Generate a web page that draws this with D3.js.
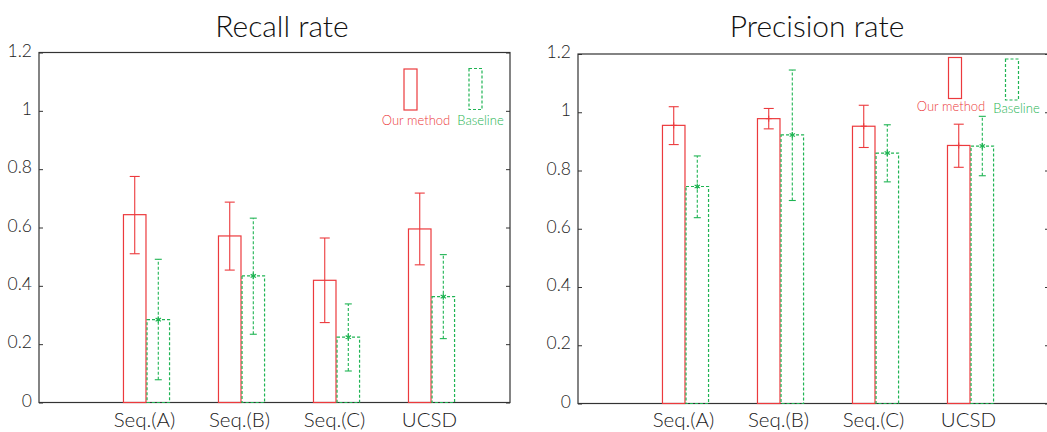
<!DOCTYPE html>
<html>
<head>
<meta charset="utf-8">
<script src="https://cdn.jsdelivr.net/npm/d3@7"></script>
<style>
  body { margin: 0; background: #fff; }
  text { font-family: Lato, "Open Sans", sans-serif; }
</style>
</head>
<body>
<div id="chart"></div>
<script>
const WIDTH = 1047;
const HEIGHT = 432;

const categories = ['Seq.(A)', 'Seq.(B)', 'Seq.(C)', 'UCSD'];
const yTicks = [0, 0.2, 0.4, 0.6, 0.8, 1, 1.2];
const seriesNames = ['Our method', 'Baseline'];

// recall rate
const recallOurs = [0.644, 0.571, 0.419, 0.595];
const recallOursLo = [0.51, 0.454, 0.274, 0.472];
const recallOursHi = [0.775, 0.687, 0.564, 0.718];
const recallBase = [0.284, 0.434, 0.224, 0.363];
const recallBaseLo = [0.078, 0.234, 0.108, 0.219];
const recallBaseHi = [0.491, 0.632, 0.338, 0.507];

// precision rate
const precOurs = [0.955, 0.978, 0.952, 0.886];
const precOursLo = [0.889, 0.943, 0.879, 0.811];
const precOursHi = [1.019, 1.013, 1.024, 0.959];
const precBase = [0.745, 0.922, 0.86, 0.884];
const precBaseLo = [0.638, 0.697, 0.761, 0.782];
const precBaseHi = [0.85, 1.145, 0.957, 0.986];

const RED = '#ec3a3d';
const GREEN = '#1fb453';
const AXIS = '#333';
const FONT = 'Lato, "Open Sans", sans-serif';

const svg = d3.select('#chart').append('svg')
  .attr('width', WIDTH)
  .attr('height', HEIGHT);

const panels = [
  {
    title: 'Recall rate', left: 39, top: 52.5, bottom: 402.5, titleX: 282,
    ours: recallOurs, oursLo: recallOursLo, oursHi: recallOursHi,
    base: recallBase, baseLo: recallBaseLo, baseHi: recallBaseHi,
    legX: [410.5, 475.5], legTop: [69, 68.5], legBot: [110, 109.5],
    legTextX: [416, 480.5], legTextY: [125, 125],
    redMarker: false
  },
  {
    title: 'Precision rate', left: 578, top: 54, bottom: 403.5, titleX: 817,
    ours: precOurs, oursLo: precOursLo, oursHi: precOursHi,
    base: precBase, baseLo: precBaseLo, baseHi: precBaseHi,
    legX: [955, 1012], legTop: [57.5, 59], legBot: [98.5, 100],
    legTextX: [951, 1016.5], legTextY: [110.5, 112.5],
    redMarker: true
  }
];

const fmt = d => (d === 0 || d === 1) ? String(d) : d3.format('.1f')(d);

panels.forEach(p => {
  const g = svg.append('g');
  const plotW = 471;
  const x = d3.scaleLinear()
    .domain([-0.1316, 4.826])
    .range([p.left, p.left + plotW]);
  const y = d3.scaleLinear()
    .domain([0, 1.2])
    .range([p.bottom, p.top]);
  const bw = x(0.237) - x(0);
  const off = 0.124;

  // title
  g.append('text')
    .attr('x', p.titleX)
    .attr('y', 37)
    .attr('text-anchor', 'middle')
    .attr('font-size', 30)
    .attr('font-weight', 300)
    .attr('fill', '#111')
    .text(p.title);

  // frame
  g.append('rect')
    .attr('x', p.left)
    .attr('y', p.top)
    .attr('width', plotW)
    .attr('height', p.bottom - p.top)
    .attr('fill', 'none')
    .attr('stroke', AXIS)
    .attr('stroke-width', 1.2);

  const yAxis = g.append('g')
    .attr('transform', `translate(${p.left},0)`)
    .call(d3.axisLeft(y).tickValues(yTicks).tickFormat(fmt).tickSize(-4).tickPadding(7));
  yAxis.select('.domain').remove();
  yAxis.selectAll('line').attr('stroke', AXIS);
  yAxis.selectAll('text')
    .attr('font-size', 17.5)
    .attr('font-family', FONT)
    .attr('font-weight', 300)
    .attr('fill', '#222')
    .attr('dy', '0.2em');

  const yAxisR = g.append('g')
    .attr('transform', `translate(${p.left + plotW},0)`)
    .call(d3.axisRight(y).tickValues(yTicks).tickFormat('').tickSize(-4));
  yAxisR.select('.domain').remove();
  yAxisR.selectAll('line').attr('stroke', AXIS);

  // category labels
  g.selectAll('.cat')
    .data(categories)
    .join('text')
    .attr('x', (d, i) => x(i + 1) - 2)
    .attr('y', 427)
    .attr('text-anchor', 'middle')
    .attr('font-size', 20.5)
    .attr('font-weight', 300)
    .attr('fill', '#222')
    .text(d => d);

  const series = [
    { vals: p.ours, lo: p.oursLo, hi: p.oursHi, color: RED, dash: null, dx: -off, cap: 5 },
    { vals: p.base, lo: p.baseLo, hi: p.baseHi, color: GREEN, dash: '3,2', dx: off, cap: 3.5 }
  ];

  series.forEach((s, si) => {
    const sg = g.append('g');
    sg.selectAll('rect')
      .data(s.vals)
      .join('rect')
      .attr('x', (d, i) => x(i + 1 + s.dx) - bw / 2)
      .attr('y', d => y(d))
      .attr('width', bw)
      .attr('height', d => y(0) - y(d))
      .attr('fill', 'none')
      .attr('stroke', s.color)
      .attr('stroke-width', 1.2)
      .attr('stroke-dasharray', s.dash);

    const eb = sg.selectAll('.eb')
      .data(s.vals)
      .join('g')
      .attr('transform', (d, i) => `translate(${x(i + 1 + s.dx)},0)`);
    eb.append('line')
      .attr('y1', (d, i) => y(s.lo[i]))
      .attr('y2', (d, i) => y(s.hi[i]))
      .attr('stroke', s.color)
      .attr('stroke-width', 1.1)
      .attr('stroke-dasharray', s.dash);
    ['lo', 'hi'].forEach(k => {
      eb.append('line')
        .attr('x1', -s.cap)
        .attr('x2', s.cap)
        .attr('y1', (d, i) => y(s[k][i]))
        .attr('y2', (d, i) => y(s[k][i]))
        .attr('stroke', s.color)
        .attr('stroke-width', 1.1);
    });
    if (si === 1) {
      eb.append('path')
        .attr('transform', d => `translate(0,${y(d)})`)
        .attr('d', d3.symbol(d3.symbolAsterisk, 26))
        .attr('fill', 'none')
        .attr('stroke', s.color)
        .attr('stroke-width', 1.2);
    } else if (p.redMarker) {
      eb.append('path')
        .attr('transform', d => `translate(0,${y(d)})`)
        .attr('d', d3.symbol(d3.symbolPlus, 14))
        .attr('fill', 'none')
        .attr('stroke', s.color)
        .attr('stroke-width', 1);
    }

    // legend
    const lx = p.legX[si];
    g.append('rect')
      .attr('x', lx - 6.5)
      .attr('y', p.legTop[si])
      .attr('width', 13)
      .attr('height', p.legBot[si] - p.legTop[si])
      .attr('fill', 'none')
      .attr('stroke', s.color)
      .attr('stroke-width', 1.2)
      .attr('stroke-dasharray', s.dash);
    g.append('text')
      .attr('x', p.legTextX[si])
      .attr('y', p.legTextY[si])
      .attr('text-anchor', 'middle')
      .attr('font-size', 13)
      .attr('font-weight', 300)
      .attr('fill', s.color)
      .text(seriesNames[si]);
  });
});
</script>
</body>
</html>
